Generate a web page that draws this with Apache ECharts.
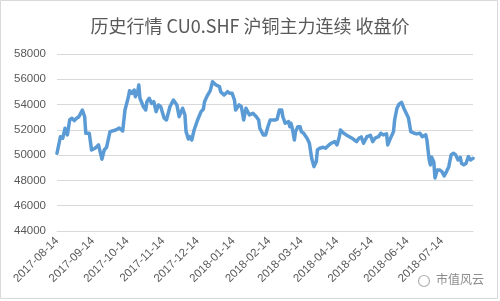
<!DOCTYPE html>
<html>
<head>
<meta charset="utf-8">
<script src="https://cdn.jsdelivr.net/npm/echarts@6/dist/echarts.min.js"></script>
<style>
html,body{margin:0;padding:0;background:#fff;}
#chart{width:500px;height:301px;}
</style>
</head>
<body>
<div id="chart"></div>
<script>
var titleText = '历史行情 CU0.SHF 沪铜主力连续 收盘价';
var startDate = '2017-08-14';
var endDate = '2018-08-10';
var dates = [
'2017-08-14','2017-08-15','2017-08-17','2017-08-19','2017-08-21','2017-08-23','2017-08-25','2017-08-27','2017-08-29','2017-08-31',
'2017-09-02','2017-09-05','2017-09-07','2017-09-08','2017-09-11','2017-09-13','2017-09-16','2017-09-19','2017-09-22','2017-09-24','2017-09-26','2017-09-29',
'2017-10-04','2017-10-07','2017-10-10','2017-10-12','2017-10-15','2017-10-16','2017-10-18','2017-10-20','2017-10-21','2017-10-23','2017-10-24','2017-10-25','2017-10-28','2017-10-30',
'2017-10-31','2017-11-02','2017-11-04','2017-11-06','2017-11-08','2017-11-10','2017-11-12','2017-11-15','2017-11-17','2017-11-20','2017-11-23','2017-11-26','2017-11-28',
'2017-12-01','2017-12-03','2017-12-04','2017-12-06','2017-12-07','2017-12-09','2017-12-11','2017-12-14','2017-12-17','2017-12-19','2017-12-20','2017-12-22','2017-12-25','2017-12-27','2017-12-30',
'2018-01-02','2018-01-03','2018-01-06','2018-01-09','2018-01-11','2018-01-13','2018-01-15','2018-01-16','2018-01-19','2018-01-21','2018-01-23','2018-01-25','2018-01-28','2018-01-29','2018-01-31',
'2018-02-03','2018-02-05','2018-02-06','2018-02-09','2018-02-11','2018-02-13','2018-02-15','2018-02-19','2018-02-21','2018-02-23','2018-02-25','2018-02-26','2018-02-28',
'2018-03-01','2018-03-03','2018-03-04','2018-03-05','2018-03-06','2018-03-08','2018-03-09','2018-03-11','2018-03-13','2018-03-14','2018-03-16','2018-03-19','2018-03-21','2018-03-23','2018-03-25','2018-03-27','2018-03-28','2018-03-30',
'2018-04-02','2018-04-04','2018-04-07','2018-04-09','2018-04-10','2018-04-12','2018-04-14','2018-04-16','2018-04-17','2018-04-19','2018-04-22','2018-04-27','2018-04-29',
'2018-05-01','2018-05-03','2018-05-05','2018-05-07','2018-05-10','2018-05-13','2018-05-15','2018-05-17','2018-05-20','2018-05-22','2018-05-24','2018-05-27','2018-05-28','2018-05-31',
'2018-06-02','2018-06-03','2018-06-05','2018-06-07','2018-06-09','2018-06-11','2018-06-12','2018-06-15','2018-06-17','2018-06-20','2018-06-22','2018-06-25','2018-06-27','2018-06-30',
'2018-07-01','2018-07-03','2018-07-04','2018-07-05','2018-07-07','2018-07-08','2018-07-10','2018-07-12','2018-07-14','2018-07-16','2018-07-18','2018-07-20','2018-07-22','2018-07-24','2018-07-26','2018-07-28','2018-07-30','2018-07-31',
'2018-08-02','2018-08-04','2018-08-06','2018-08-08','2018-08-10'
];
var closes = [
50150,50280,51460,51340,52130,51600,52780,52920,52730,52920,
53040,53570,53040,51730,51730,50410,50550,50810,49680,50410,50620,51860,
51990,52150,51910,53570,54620,55100,54890,55150,54620,55020,55550,54500,53830,53570,
54230,54500,54100,54230,53440,53970,53830,52920,52780,53830,54360,53970,53040,
53710,53180,51860,51280,51460,51200,51990,52780,53440,53630,54230,54620,55100,55810,55550,
55420,55020,54760,55020,54890,54890,54360,53570,53970,53830,52780,53710,53180,53260,53310,
53040,52780,52130,51600,51600,52250,52780,52780,52840,53570,53570,53040,52520,
52390,52650,52250,52520,52210,51200,51860,52250,52250,51860,51730,51340,50940,49760,49090,49490,50410,50550,
50620,50550,50810,50940,50810,51070,50810,51460,51990,51790,51600,51340,51200,
51070,51340,51440,50940,51460,51560,51070,51340,51460,51730,51600,51680,50810,51460,
51860,52780,53710,54050,54170,53710,53570,52940,51860,51730,51680,51730,51460,51600,
51200,49620,49230,49860,49460,48200,48830,48830,48700,48360,48700,49090,50020,50150,50020,49620,49830,49360,
49230,49360,49880,49620,49750
];
var yMin = 44000, yMax = 58000, yStep = 2000;
var watermark = '市值风云';

function fmt(d){
  var m = d.getUTCMonth()+1, day = d.getUTCDate();
  return d.getUTCFullYear()+'-'+(m<10?'0':'')+m+'-'+(day<10?'0':'')+day;
}
var categories = [];
var cur = new Date(startDate+'T00:00:00Z');
var end = new Date(endDate+'T00:00:00Z');
while (cur <= end) { categories.push(fmt(cur)); cur = new Date(cur.getTime()+86400000); }
var lookup = {};
for (var i=0;i<dates.length;i++) lookup[dates[i]] = closes[i];
var seriesData = categories.map(function(c){ return lookup.hasOwnProperty(c) ? lookup[c] : null; });

var chart = echarts.init(document.getElementById('chart'), null, {renderer:'canvas'});
chart.setOption({
  animation:false,
  backgroundColor:'#ffffff',
  title:{
    text:titleText, left:'center', top:12,
    textStyle:{fontSize:18, fontWeight:'normal', color:'#595959', fontFamily:'"Noto Sans CJK SC", sans-serif'}
  },
  grid:{left:57, right:27, top:54, bottom:70, containLabel:false},
  xAxis:{
    type:'category', data:categories, boundaryGap:false,
    axisLine:{show:true, lineStyle:{color:'#d9d9d9', width:1}},
    axisTick:{show:false},
    splitLine:{show:false},
    axisLabel:{
      rotate:45, margin:8, color:'#595959', fontSize:11.5,
      fontFamily:'"Liberation Sans", Arial, sans-serif',
      interval:function(idx, val){ return val.slice(8)==='14'; }
    }
  },
  yAxis:{
    type:'value', min:yMin, max:yMax, interval:yStep,
    axisLine:{show:false}, axisTick:{show:false},
    splitLine:{lineStyle:{color:'#d9d9d9', width:1}},
    axisLabel:{color:'#595959', fontSize:11.5, margin:11, fontFamily:'"Liberation Sans", Arial, sans-serif',
      formatter:function(v){ return String(v); }}
  },
  series:[{
    type:'line', data:seriesData, connectNulls:true, showSymbol:false, symbol:'none',
    lineStyle:{color:'#5b9bd5', width:3.5, join:'round', cap:'round'}
  }],
  graphic:[
    {type:'rect', shape:{x:0.5, y:0.5, width:497, height:298}, style:{fill:null, stroke:'#d9d9d9', lineWidth:1}, silent:true},
    {type:'circle', shape:{cx:424, cy:281, r:5.5}, style:{fill:null, stroke:'#b0b0b0', lineWidth:1.2}},
    {type:'text', left:436, top:273, style:{text:watermark, fill:'#8c8c8c', fontSize:12, fontFamily:'"Noto Sans CJK SC", sans-serif'}}
  ]
});
</script>
</body>
</html>
